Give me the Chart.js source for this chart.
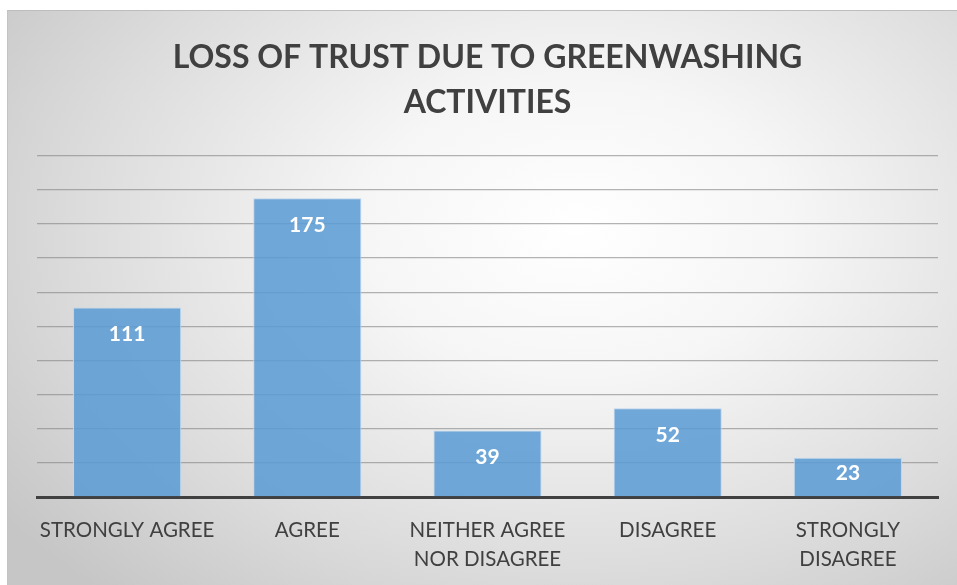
<!DOCTYPE html>
<html lang="en">
<head>
  <meta charset="UTF-8" />
  <title>Loss of Trust</title>
  <script src="https://cdn.jsdelivr.net/npm/chart.js"></script>
  <style>
    html, body { margin: 0; padding: 0; background: #fff; }
    body { width: 957px; height: 585px; position: relative; overflow: hidden; }
    #panel {
      position: absolute; left: 7px; top: 10px; width: 950px; height: 575px;
      background: radial-gradient(ellipse 75% 85% at 60% 38%, #ffffff 0%, #f6f6f6 30%, #dcdcdc 70%, #c6c6c6 100%);
      border-top: 1px solid #bdbdbd; border-left: 1px solid #c4c4c4;
      box-sizing: border-box;
    }
    #wrap { position: absolute; left: 0; top: 0; width: 957px; height: 585px; }
  </style>
</head>
<body>
  <div id="panel"></div>
  <div id="wrap"><canvas id="chart" width="957" height="585"></canvas></div>

  <script>
    // data
    const categories = [
      'STRONGLY AGREE',
      'AGREE',
      ['NEITHER AGREE', 'NOR DISAGREE'],
      'DISAGREE',
      ['STRONGLY', 'DISAGREE']
    ];
    const responses = [111, 175, 39, 52, 23];
    const titleLines = ['LOSS OF TRUST DUE TO GREENWASHING', 'ACTIVITIES'];
    const yMax = 200;
    const yStep = 20;

    // white value labels inside the top of each bar (kept above the axis on short bars)
    const valueLabels = {
      id: 'valueLabels',
      afterDatasetsDraw(chart) {
        const ctx = chart.ctx;
        const meta = chart.getDatasetMeta(0);
        const base = chart.scales.y.getPixelForValue(0);
        ctx.save();
        ctx.fillStyle = '#ffffff';
        ctx.font = 'bold 21px Lato';
        ctx.textAlign = 'center';
        ctx.textBaseline = 'middle';
        meta.data.forEach((bar, i) => {
          const y = Math.min(bar.y + 27, base - 24);
          ctx.fillText(String(responses[i]), bar.x, y);
        });
        ctx.restore();
      }
    };

    new Chart(document.getElementById('chart'), {
      type: 'bar',
      data: {
        labels: categories,
        datasets: [{
          data: responses,
          backgroundColor: 'rgba(91, 155, 213, 0.86)',
          borderColor: '#bdd7ee',
          borderWidth: 1,
          borderSkipped: 'bottom',
          barPercentage: 0.6,
          categoryPercentage: 1
        }]
      },
      options: {
        responsive: false,
        animation: false,
        layout: { padding: { left: 37, right: 19, top: 10, bottom: 0 } },
        plugins: {
          legend: { display: false },
          tooltip: { enabled: false },
          title: {
            display: true,
            text: titleLines,
            color: '#404040',
            font: { family: 'Lato', size: 32, weight: 'bold', lineHeight: 1.4 },
            padding: { top: 25, bottom: 31 }
          }
        },
        scales: {
          x: {
            grid: { display: false },
            border: { color: '#404040', width: 3 },
            ticks: {
              color: '#404040',
              font: { family: 'Lato', size: 20.5, lineHeight: 1.42 },
              padding: 11,
              maxRotation: 0,
              autoSkip: false
            },
            afterFit(scale) { scale.height = 88; }
          },
          y: {
            min: 0,
            max: yMax,
            ticks: { display: false, stepSize: yStep },
            grid: { color: 'rgba(130, 130, 130, 0.6)', lineWidth: 1.3, drawTicks: false },
            border: { display: false }
          }
        }
      },
      plugins: [valueLabels]
    });
  </script>
</body>
</html>
